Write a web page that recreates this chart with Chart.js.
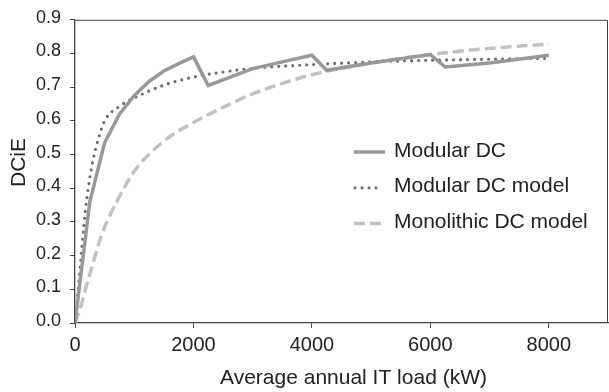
<!DOCTYPE html>
<html>
<head>
<meta charset="utf-8">
<script src="https://cdn.jsdelivr.net/npm/chart.js@4/dist/chart.umd.min.js"></script>
<style>
  html, body { margin: 0; padding: 0; background: #fff; }
</style>
</head>
<body>
<canvas id="myChart" width="609" height="392"></canvas>
<script>
// values
const loadModular = [0, 250, 500, 750, 1000, 1250, 1500, 1750, 2000, 2250, 2500, 3000, 3500, 4000, 4250, 5000, 6000, 6250, 7000, 8000];
const dcieModular = [0, 0.36, 0.535, 0.62, 0.675, 0.717, 0.748, 0.77, 0.79, 0.705, 0.722, 0.755, 0.775, 0.795, 0.75, 0.772, 0.797, 0.76, 0.772, 0.795];

const loadModularModel = [0, 50, 100, 150, 200, 300, 400, 500, 750, 1000, 1500, 2000, 2500, 3000, 4000, 5000, 6000, 7000, 8000];
const dcieModularModel = [0, 0.09, 0.19, 0.29, 0.37, 0.48, 0.55, 0.6, 0.643, 0.668, 0.706, 0.73, 0.745, 0.756, 0.767, 0.775, 0.78, 0.783, 0.786];

const loadMonolithic = [0, 100, 200, 300, 400, 500, 750, 1000, 1500, 2000, 2500, 3000, 4000, 5000, 6000, 7000, 8000];
const dcieMonolithic = [0, 0.05, 0.115, 0.175, 0.235, 0.285, 0.375, 0.45, 0.54, 0.595, 0.64, 0.68, 0.737, 0.772, 0.797, 0.815, 0.828];

const seriesNames = ["Modular DC", "Modular DC model", "Monolithic DC model"];
const xTicks = [0, 2000, 4000, 6000, 8000];
const yTicks = [0, 0.1, 0.2, 0.3, 0.4, 0.5, 0.6, 0.7, 0.8, 0.9];
const xTitle = "Average annual IT load (kW)";
const yTitle = "DCiE";

const FONT = '"Liberation Sans", Arial, Helvetica, sans-serif';
const TEXT = "#222";
const AXIS = "#444";

const toPoints = (xs, ys) => xs.map((x, i) => ({ x: x, y: ys[i] }));

// frame, axis titles and the in-plot legend
const decor = {
  id: "decor",
  afterDraw(chart) {
    const { ctx, chartArea: a } = chart;
    ctx.save();
    ctx.strokeStyle = AXIS;
    ctx.lineWidth = 1;
    ctx.beginPath();
    ctx.moveTo(a.left, a.top + 0.5);
    ctx.lineTo(a.right - 0.5, a.top + 0.5);
    ctx.lineTo(a.right - 0.5, a.bottom);
    ctx.stroke();

    ctx.fillStyle = TEXT;
    ctx.font = "21px " + FONT;
    ctx.textAlign = "center";
    ctx.textBaseline = "alphabetic";
    ctx.fillText(xTitle, (a.left + a.right) / 2 + 12, 384);

    ctx.save();
    ctx.translate(25, 162.5);
    ctx.rotate(-Math.PI / 2);
    ctx.fillText(yTitle, 0, 0);
    ctx.restore();

    // legend
    ctx.textAlign = "left";
    chart.data.datasets.forEach((ds, i) => {
      const base = 156.5 + i * 35.8;
      const ly = base - 4.5;
      ctx.save();
      ctx.strokeStyle = ds.borderColor;
      ctx.lineWidth = ds.borderWidth;
      ctx.lineCap = ds.borderCapStyle || "butt";
      ctx.setLineDash(ds.borderDash || []);
      ctx.beginPath();
      ctx.moveTo(i == 1 ? 355 : 354, ly);
      ctx.lineTo(i == 1 ? 379 : 385, ly);
      ctx.stroke();
      ctx.restore();
      ctx.fillText(ds.label, 394, base);
    });
    ctx.restore();
  }
};

const config = {
  type: "line",
  data: {
    datasets: [
      {
        label: seriesNames[0],
        data: toPoints(loadModular, dcieModular),
        borderColor: "#999999",
        borderWidth: 3.5,
        tension: 0,
        borderJoinStyle: "miter"
      },
      {
        label: seriesNames[1],
        data: toPoints(loadModularModel, dcieModularModel),
        borderColor: "#6e6e6e",
        borderWidth: 3.2,
        borderDash: [0, 7],
        borderCapStyle: "round",
        cubicInterpolationMode: "monotone"
      },
      {
        label: seriesNames[2],
        data: toPoints(loadMonolithic, dcieMonolithic),
        borderColor: "#c2c2c2",
        borderWidth: 3.5,
        borderDash: [11, 5],
        cubicInterpolationMode: "monotone"
      }
    ]
  },
  options: {
    responsive: false,
    animation: false,
    devicePixelRatio: 1,
    layout: { padding: { top: 19, right: 1, left: 0, bottom: 0 } },
    elements: { point: { radius: 0 } },
    plugins: { legend: { display: false }, tooltip: { enabled: false } },
    scales: {
      x: {
        type: "linear",
        min: 0,
        max: 9000,
        afterFit: (s) => { s.height = 69; },
        afterBuildTicks: (s) => { s.ticks = xTicks.map((v) => ({ value: v })); },
        ticks: {
          color: TEXT,
          font: { family: FONT, size: 20 },
          padding: 5,
          maxRotation: 0,
          callback: (v) => String(v)
        },
        grid: { drawOnChartArea: false, drawTicks: true, tickLength: 5, color: AXIS, lineWidth: 1 },
        border: { display: true, color: AXIS, width: 1.3 }
      },
      y: {
        min: 0,
        max: 0.9,
        afterFit: (s) => { s.width = 75; },
        afterBuildTicks: (s) => { s.ticks = yTicks.map((v) => ({ value: v })); },
        ticks: {
          color: TEXT,
          font: { family: FONT, size: 18 },
          padding: 9,
          labelOffset: -2,
          callback: (v) => v.toFixed(1)
        },
        grid: { drawOnChartArea: false, drawTicks: true, tickLength: 5, color: AXIS, lineWidth: 1 },
        border: { display: true, color: AXIS, width: 1.3 }
      }
    }
  },
  plugins: [decor]
};

const chart = new Chart(document.getElementById("myChart"), config);
</script>
</body>
</html>
